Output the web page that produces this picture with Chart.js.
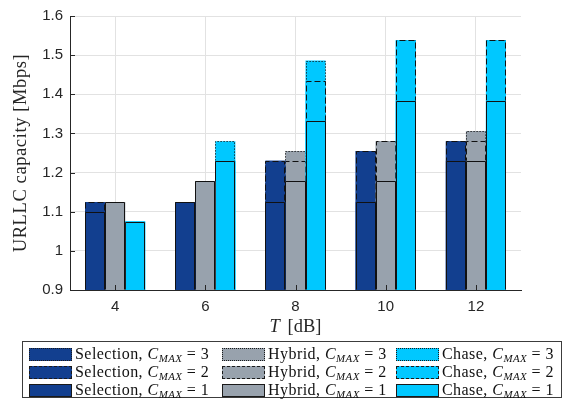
<!DOCTYPE html>
<html>
<head>
<meta charset="utf-8">
<script src="https://cdn.jsdelivr.net/npm/chart.js@4.4.0/dist/chart.umd.min.js"></script>
<style>
  body { margin: 0; background: #fff; }
  #wrap { position: relative; width: 568px; height: 403px; }
  #legend { position: absolute; left: 22px; top: 341px; width: 540px; height: 57px; border: 1px solid #3c3c3c; box-sizing: border-box; font-family: 'Liberation Serif', 'DejaVu Serif', serif; font-size: 16px; letter-spacing: 0.45px; color: #111; background: #fff; }
  .item { position: absolute; height: 18px; line-height: 18px; white-space: nowrap; }
  .sw { position: absolute; left: 0; top: 3px; width: 43px; height: 13px; box-sizing: border-box; border: 1px solid #1a1a1a; }
  .lbl { position: absolute; left: 46px; top: 0; }
  .it { font-style: italic; }
  .sub { font-size: 68%; font-style: italic; position: relative; top: 3px; }
</style>
</head>
<body>
<div id="wrap">
  <canvas id="chart"></canvas>
  <div id="legend"></div>
</div>
<script>
// threshold T [dB]
const tLabels = ['4', '6', '8', '10', '12'];
const yTicks = [0.9, 1.0, 1.1, 1.2, 1.3, 1.4, 1.5, 1.6];

// URLLC capacity [Mbps] per scheme and C_MAX
const selection1 = [1.100, 1.125, 1.125, 1.125, 1.230];
const selection2 = [1.125, 1.125, 1.230, 1.255, 1.280];
const selection3 = [1.125, 1.125, 1.230, 1.255, 1.280];
const hybrid1 = [1.125, 1.178, 1.178, 1.178, 1.230];
const hybrid2 = [1.125, 1.178, 1.230, 1.280, 1.280];
const hybrid3 = [1.125, 1.178, 1.255, 1.280, 1.306];
const chase1 = [1.075, 1.230, 1.333, 1.384, 1.384];
const chase2 = [1.075, 1.230, 1.434, 1.538, 1.538];
const chase3 = [1.075, 1.280, 1.486, 1.538, 1.538];

const schemes = [
  { name: 'Selection', key: 'sel', color: '#123F8F', data: { 1: selection1, 2: selection2, 3: selection3 } },
  { name: 'Hybrid', key: 'hyb', color: '#98A2AD', data: { 1: hybrid1, 2: hybrid2, 3: hybrid3 } },
  { name: 'Chase', key: 'cha', color: '#00C8FF', data: { 1: chase1, 2: chase2, 3: chase3 } }
];
const dashes = { 1: [], 2: [6, 3], 3: [1.2, 1.8] };
const cssBorder = { 1: 'solid', 2: 'dashed', 3: 'dotted' };

// C_MAX=1 listed first so it ends up drawn on top of the taller bars
const datasets = [];
[1, 2, 3].forEach(c => schemes.forEach(s => datasets.push({
  label: `${s.name}, C_MAX = ${c}`,
  data: s.data[c],
  stack: s.key,
  backgroundColor: s.color,
  borderWidth: 0,
  edgeDash: dashes[c],
  categoryPercentage: 2 / 3,
  barPercentage: 1
})));

// bar outlines with dash patterns (BarElement has no borderDash)
const outlines = {
  id: 'outlines',
  afterDatasetDraw(chart, args) {
    const ds = chart.data.datasets[args.index];
    const { ctx, chartArea } = chart;
    ctx.save();
    ctx.lineWidth = 1;
    ctx.strokeStyle = '#111';
    ctx.setLineDash(ds.edgeDash);
    args.meta.data.forEach(bar => {
      const p = bar.getProps(['x', 'y', 'width', 'base'], true);
      const l = Math.round(p.x - p.width / 2) + 0.5;
      const r = Math.round(p.x + p.width / 2) - 0.5;
      const t = Math.round(p.y) + 0.5;
      const b = Math.round(Math.min(p.base, chartArea.bottom)) - 0.5;
      ctx.beginPath();
      ctx.moveTo(l, b); ctx.lineTo(l, t); ctx.lineTo(r, t); ctx.lineTo(r, b);
      ctx.stroke();
    });
    ctx.restore();
  },
  afterDraw(chart) {
    const { ctx, chartArea, scales } = chart;
    ctx.save();
    // inward tick marks
    ctx.strokeStyle = '#262626';
    ctx.lineWidth = 1;
    ctx.beginPath();
    yTicks.forEach(v => {
      const y = Math.round(scales.y.getPixelForValue(v)) + 0.5;
      ctx.moveTo(chartArea.left, y); ctx.lineTo(chartArea.left + 5, y);
    });
    tLabels.forEach((_, i) => {
      const x = Math.round(scales.x.getPixelForValue(i)) + 0.5;
      ctx.moveTo(x, chartArea.bottom); ctx.lineTo(x, chartArea.bottom - 5);
    });
    ctx.stroke();

    // axis titles
    ctx.fillStyle = '#262626';
    ctx.textBaseline = 'middle';
    const serif = '"Liberation Serif", "DejaVu Serif", serif';
    ctx.font = `18.5px ${serif}`;
    ctx.save();
    ctx.translate(21, (chartArea.top + chartArea.bottom) / 2);
    ctx.rotate(-Math.PI / 2);
    ctx.textAlign = 'center';
    ctx.letterSpacing = '0.6px';
    ctx.fillText('URLLC capacity [Mbps]', 0, 0);
    ctx.restore();

    ctx.textAlign = 'left';
    const rest = ' [dB]';
    const wRest = ctx.measureText(rest).width;
    ctx.font = `italic 18.5px ${serif}`;
    const wT = ctx.measureText('T').width;
    const x0 = (chartArea.left + chartArea.right) / 2 - (wT + wRest + 3) / 2;
    ctx.fillText('T', x0, 327);
    ctx.font = `18.5px ${serif}`;
    ctx.fillText(rest, x0 + wT + 3, 327);
    ctx.restore();
  }
};

new Chart(document.getElementById('chart'), {
  type: 'bar',
  data: { labels: tLabels, datasets },
  plugins: [outlines],
  options: {
    responsive: true,
    maintainAspectRatio: false,
    animation: false,
    layout: { padding: { left: 0, top: 13, right: 47, bottom: 0 } },
    plugins: { legend: { display: false }, tooltip: { enabled: false } },
    scales: {
      x: {
        stacked: true,
        grid: { color: '#e2e2e2', offset: false, drawTicks: false },
        border: { color: '#262626', width: 1 },
        ticks: { padding: 8, color: '#262626', font: { family: '"Liberation Sans", Arial, sans-serif', size: 15 } },
        afterFit: s => { s.height = 113; }
      },
      y: {
        stacked: false,
        min: 0.9, max: 1.6,
        grid: { color: '#e2e2e2', drawTicks: false },
        border: { color: '#262626', width: 1 },
        ticks: {
          stepSize: 0.1, padding: 7, color: '#262626',
          font: { family: '"Liberation Sans", Arial, sans-serif', size: 15 },
          callback: v => String(+v.toFixed(1))
        },
        afterFit: s => { s.width = 70; }
      }
    }
  }
});

// legend: rows C_MAX = 3, 2, 1; columns per scheme
const legend = document.getElementById('legend');
const colLeft = [6, 199, 373];
const rowTop = [3, 21, 39];
[3, 2, 1].forEach((c, r) => schemes.forEach((s, k) => {
  const item = document.createElement('div');
  item.className = 'item';
  item.style.left = colLeft[k] + 'px';
  item.style.top = rowTop[r] + 'px';
  item.innerHTML = `<span class="sw" style="background:${s.color};border-style:${cssBorder[c]}"></span>` +
    `<span class="lbl">${s.name}, <span class="it">C</span><span class="sub">MAX</span> = ${c}</span>`;
  legend.appendChild(item);
}));
</script>
</body>
</html>
